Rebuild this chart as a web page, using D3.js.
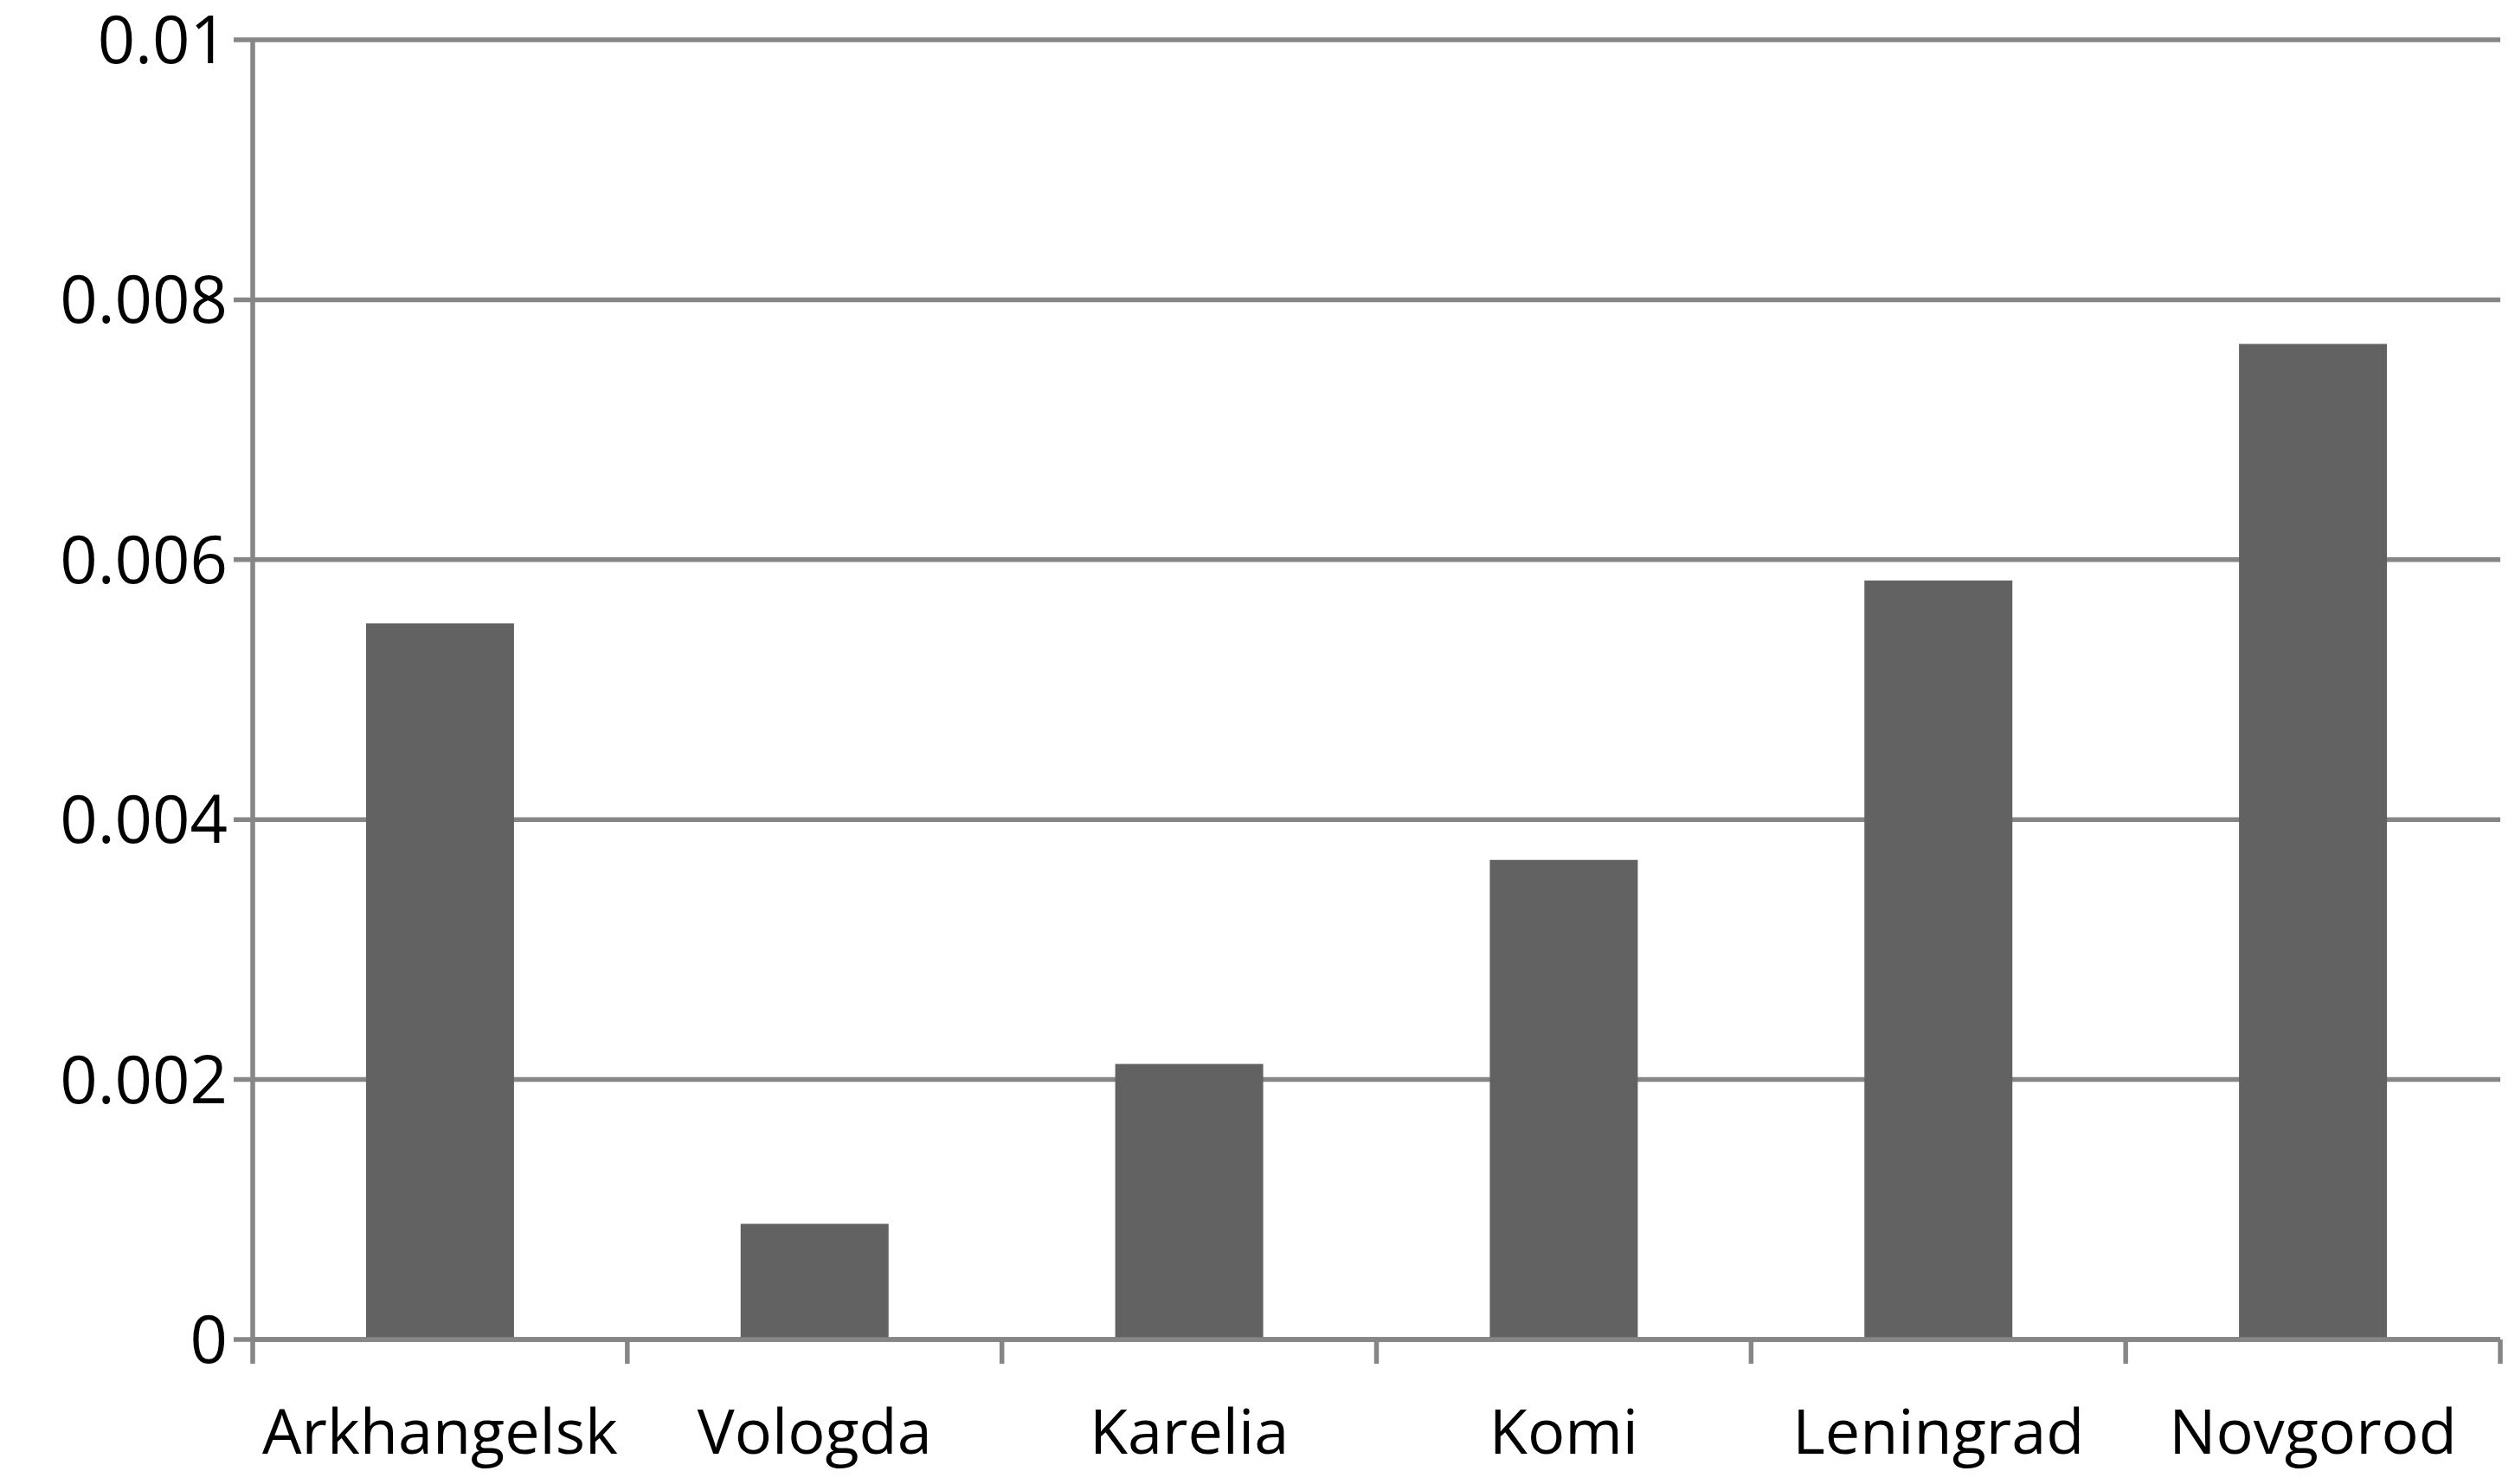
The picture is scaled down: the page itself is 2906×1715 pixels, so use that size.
<!DOCTYPE html><html><head><meta charset="utf-8">
<script src="https://cdn.jsdelivr.net/npm/d3@7"></script>
<style>body{margin:0;background:#fff}text{font-family:"Open Sans",sans-serif}</style></head><body>
<svg id="c" width="2906" height="1715"></svg>
<script>
const categories=["Arkhangelsk","Vologda","Karelia","Komi","Leningrad","Novgorod"];
const values=[0.00551,0.00089,0.00212,0.00369,0.00584,0.00766];
const yTicks=[0,0.002,0.004,0.006,0.008,0.01];
const yTickLabels=["0","0.002","0.004","0.006","0.008","0.01"];
const svg=d3.select("#c");
const L=292,R=2889,T=46,B=1548;
const x=d3.scaleBand().domain(categories).range([L,R]).paddingInner(0.605).paddingOuter(0.3025);
const xb=d3.scaleBand().domain(categories).range([L,R]);
const y=d3.scaleLinear().domain([0,0.01]).range([B,T]);
const ax="#868686";
svg.append("g").selectAll("line").data(yTicks).join("line")
 .attr("x1",L-22).attr("x2",R).attr("y1",d=>y(d)).attr("y2",d=>y(d)).attr("stroke",ax).attr("stroke-width",5.5);
svg.append("g").selectAll("text").data(yTicks).join("text")
 .attr("x",263).attr("y",d=>y(d)+27).attr("text-anchor","end").attr("font-size",76).attr("fill","#000")
 .text((d,i)=>yTickLabels[i]);
svg.append("g").selectAll("rect").data(values).join("rect")
 .attr("x",(d,i)=>x(categories[i])).attr("width",x.bandwidth())
 .attr("y",d=>y(d)).attr("height",d=>B-y(d)).attr("fill","#626262");
svg.append("line").attr("x1",L).attr("x2",L).attr("y1",T).attr("y2",B+28).attr("stroke",ax).attr("stroke-width",5.5);
svg.append("g").selectAll("line").data(categories.slice(1).concat(["end"])).join("line")
 .attr("x1",(d,i)=>L+xb.step()*(i+1)).attr("x2",(d,i)=>L+xb.step()*(i+1))
 .attr("y1",B).attr("y2",B+28).attr("stroke",ax).attr("stroke-width",5.5);
svg.append("line").attr("x1",L).attr("x2",R).attr("y1",B).attr("y2",B).attr("stroke",ax).attr("stroke-width",5.5);
svg.append("g").selectAll("text").data(categories).join("text")
 .attr("x",d=>xb(d)+xb.bandwidth()/2).attr("y",1680).attr("text-anchor","middle").attr("font-size",72)
 .text(d=>d);
</script></body></html>
